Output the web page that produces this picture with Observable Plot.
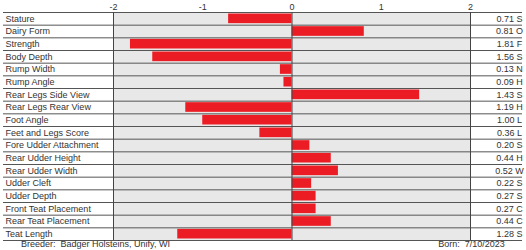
<!DOCTYPE html>
<html>
<head>
<meta charset="utf-8">
<script src="https://cdn.jsdelivr.net/npm/d3@7"></script>
<script src="https://cdn.jsdelivr.net/npm/@observablehq/plot@0.6"></script>
<style>
  html, body { margin: 0; padding: 0; background: #fff; }
  svg { display: block; }
</style>
</head>
<body>
<div id="chart"></div>
<script>
const traits = ["Stature", "Dairy Form", "Strength", "Body Depth", "Rump Width", "Rump Angle",
  "Rear Legs Side View", "Rear Legs Rear View", "Foot Angle", "Feet and Legs Score",
  "Fore Udder Attachment", "Rear Udder Height", "Rear Udder Width", "Udder Cleft",
  "Udder Depth", "Front Teat Placement", "Rear Teat Placement", "Teat Length"];
const values = [-0.71, 0.81, -1.81, -1.56, -0.13, -0.09, 1.43, -1.19, -1.00, -0.36,
  0.20, 0.44, 0.52, 0.22, 0.27, 0.27, 0.44, -1.28];
const codes = ["S", "O", "F", "S", "N", "H", "S", "H", "L", "L", "S", "H", "W", "S", "S", "C", "C", "S"];
const xTicks = [-2, -1, 0, 1, 2];
const breeder = "Breeder:\u00a0 Badger Holsteins, Unify, WI";
const born = "Born:  7/10/2023";

const data = traits.map((name, i) => ({i, name, v: values[i], code: codes[i]}));
const n = traits.length;

const chart = Plot.plot({
  width: 526,
  height: 250,
  marginLeft: 113,
  marginRight: 56,
  marginTop: 12,
  marginBottom: 10,
  style: {fontFamily: "'Liberation Sans', Arial, sans-serif", fontSize: "9px", color: "#333", background: "#fff"},
  x: {domain: [-2, 2]},
  y: {domain: [n, 0], axis: null},
  marks: [
    Plot.frame({fill: "#e8e8e8", stroke: null}),
    Plot.rectX(data, {x: "v", y1: "i", y2: d => d.i + 1, fill: "#ec1c24", insetTop: 1.5, insetBottom: 1.5}),
    Plot.ruleY(d3.range(n + 1), {stroke: "#555", strokeWidth: 1, insetLeft: -110, insetRight: -52}),
    Plot.ruleX(xTicks.filter(t => t !== -1 && t !== 1), {stroke: "#444", strokeWidth: 1}),
    Plot.axisX({anchor: "top", ticks: xTicks, tickSize: 0, tickPadding: 3, tickFormat: d => String(d), label: null, fill: "#333"}),
    Plot.text(data, {y: d => d.i + 0.5, text: "name", frameAnchor: "left", textAnchor: "start", dx: -108, fill: "#333"}),
    Plot.text(data, {y: d => d.i + 0.5, text: d => `${Math.abs(d.v).toFixed(2)} ${d.code}`, frameAnchor: "right", textAnchor: "middle", dx: 39, fill: "#333"}),
    Plot.text([breeder], {text: d => d, frameAnchor: "bottom-left", textAnchor: "middle", dx: -18, dy: 6, fill: "#333"}),
    Plot.text([born], {text: d => d, frameAnchor: "bottom-right", textAnchor: "middle", dx: 1, dy: 6, fill: "#333"})
  ]
});
document.getElementById("chart").appendChild(chart);
</script>
</body>
</html>
